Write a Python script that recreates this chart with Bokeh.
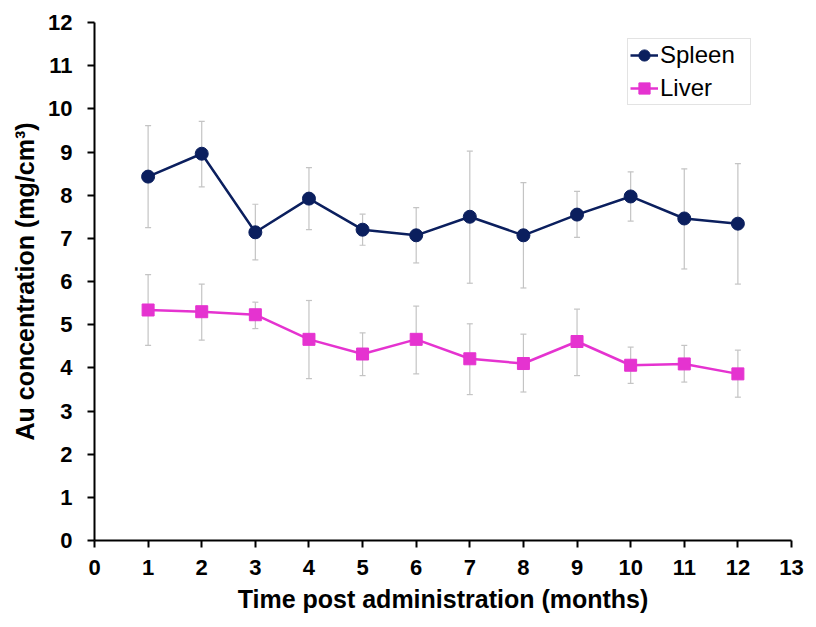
from bokeh.plotting import figure
from bokeh.models import Range1d, Whisker, ColumnDataSource, TeeHead, Legend, LegendItem, FixedTicker
from bokeh.embed import file_html
from bokeh.resources import INLINE

months = [1, 2, 3, 4, 5, 6, 7, 8, 9, 10, 11, 12]
spleen = [8.43, 8.96, 7.14, 7.92, 7.20, 7.07, 7.50, 7.07, 7.55, 7.97, 7.46, 7.34]
spleen_upper = [9.61, 9.71, 7.79, 8.64, 7.56, 7.71, 9.02, 8.29, 8.09, 8.54, 8.61, 8.73]
spleen_lower = [7.25, 8.19, 6.50, 7.20, 6.84, 6.43, 5.96, 5.85, 7.02, 7.40, 6.29, 5.94]
liver = [5.34, 5.30, 5.23, 4.66, 4.32, 4.66, 4.21, 4.10, 4.61, 4.06, 4.09, 3.86]
liver_upper = [6.16, 5.94, 5.52, 5.56, 4.81, 5.43, 5.02, 4.78, 5.36, 4.48, 4.52, 4.41]
liver_lower = [4.52, 4.64, 4.91, 3.75, 3.82, 3.86, 3.38, 3.44, 3.82, 3.64, 3.67, 3.32]
x_ticks = list(range(0, 14))
y_ticks = list(range(0, 13))

SPLEEN_C = "#0b1f5e"
LIVER_C = "#e533d0"
ERR_C = "#c4c4c4"
FONT = "Liberation Sans"

p = figure(width=804, height=619, output_backend="svg", toolbar_location=None,
           x_range=Range1d(0, 13), y_range=Range1d(0, 12),
           min_border_left=94, min_border_right=13, min_border_top=22, min_border_bottom=79)
p.outline_line_color = None
p.border_fill_color = "white"
p.xgrid.visible = False
p.ygrid.visible = False
p.background_fill_color = "white"

for ax, ticks in ((p.xaxis, x_ticks), (p.yaxis, y_ticks)):
    ax.ticker = FixedTicker(ticks=ticks)
    ax.axis_line_color = "black"
    ax.axis_line_width = 2
    ax.major_tick_line_color = "black"
    ax.major_tick_line_width = 2
    ax.major_tick_in = 0
    ax.major_tick_out = 7
    ax.minor_tick_line_color = None
    ax.major_label_text_font = FONT
    ax.major_label_text_font_style = "bold"
    ax.major_label_text_font_size = "22px"
    ax.major_label_text_color = "black"
    ax.axis_label_text_font = FONT
    ax.axis_label_text_font_style = "bold"
    ax.axis_label_text_font_size = "25px"
    ax.axis_label_text_color = "black"

p.xaxis.axis_label = "Time post administration (months)"
p.yaxis.axis_label = "Au concentration (mg/cm³)"
p.yaxis.major_label_standoff = 15
p.yaxis.axis_label_standoff = 6
p.xaxis.major_label_standoff = 12
p.xaxis.axis_label_standoff = 7

src_s = ColumnDataSource(dict(x=months, y=spleen, up=spleen_upper, lo=spleen_lower))
src_l = ColumnDataSource(dict(x=months, y=liver, up=liver_upper, lo=liver_lower))

for src in (src_s, src_l):
    w = Whisker(source=src, base="x", upper="up", lower="lo", dimension="height",
                line_color=ERR_C, line_width=1.2,
                upper_head=TeeHead(size=6, line_color=ERR_C, line_width=1.2),
                lower_head=TeeHead(size=6, line_color=ERR_C, line_width=1.2))
    p.add_layout(w)

ls = p.line("x", "y", source=src_s, line_color=SPLEEN_C, line_width=2.5)
ms = p.scatter("x", "y", source=src_s, marker="circle", size=13,
               fill_color=SPLEEN_C, line_color=SPLEEN_C)
ll = p.line("x", "y", source=src_l, line_color=LIVER_C, line_width=2.5)
ml = p.scatter("x", "y", source=src_l, marker="square", size=12,
               fill_color=LIVER_C, line_color=LIVER_C)

legend = Legend(items=[LegendItem(label="Spleen", renderers=[ls, ms]),
                       LegendItem(label="Liver", renderers=[ll, ml])],
                location=(533, 435))
legend.label_text_font = FONT
legend.label_text_font_size = "24px"
legend.label_text_color = "black"
legend.border_line_color = "#c8c8c8"
legend.border_line_width = 1
legend.background_fill_alpha = 1
legend.glyph_width = 28
legend.glyph_height = 28
legend.label_standoff = 2
legend.label_height = 28
legend.label_width = 88
legend.spacing = 5
legend.padding = 2
legend.margin = 0
p.add_layout(legend)

open("out.html", "w").write(file_html(p, INLINE))
